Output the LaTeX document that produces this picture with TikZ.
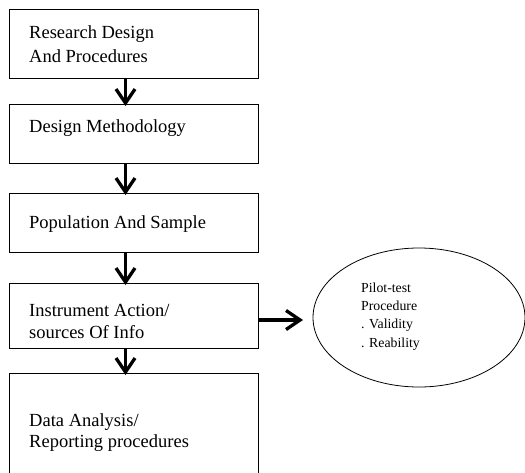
\documentclass[tikz,border=0pt]{standalone}
\usepackage{fontspec}
\setmainfont{Liberation Serif}
\usetikzlibrary{arrows.meta,shapes.geometric}
\begin{document}
\begin{tikzpicture}[x=1pt,y=-1pt,
  boxnode/.style={draw=black,line width=0.9pt,rectangle,inner sep=0pt,anchor=north west},
  boxtext/.style={anchor=base west,inner sep=0pt,font=\fontsize{18.5}{22}\selectfont},
  elltext/.style={anchor=base west,inner sep=0pt,font=\fontsize{13.8}{17}\selectfont},
  flowarrow/.style={line width=3.3pt,-{Straight Barb[length=14pt,width=19pt]}}]
\useasboundingbox (0,0) rectangle (525,472);
\clip (0,0) rectangle (525,472);
\node[boxnode,minimum width=249pt,minimum height=69pt] (b1) at (9,9) {};
\node[boxnode,minimum width=249pt,minimum height=59pt] (b2) at (9,104) {};
\node[boxnode,minimum width=249pt,minimum height=59pt] (b3) at (9,193) {};
\node[boxnode,minimum width=249pt,minimum height=65pt] (b4) at (9,283) {};
\node[boxnode,minimum width=249pt,minimum height=120pt] (b5) at (9,373) {};
\node[draw=black,line width=0.8pt,ellipse,minimum width=212pt,minimum height=139pt,inner sep=0pt] (e) at (419,317.5) {};
\node[boxtext] (t1a) at (29,38) {Research Design};
\node[boxtext] (t1b) at (29,62) {And Procedures};
\node[boxtext] (t2) at (29,132) {Design Methodology};
\node[boxtext] (t3) at (29,228) {Population And Sample};
\node[boxtext] (t4a) at (29,316) {Instrument Action/};
\node[boxtext] (t4b) at (29,338) {sources Of Info};
\node[boxtext] (t5a) at (29,426) {Data Analysis/};
\node[boxtext] (t5b) at (29,447) {Reporting procedures};
\node[elltext] (e1) at (361,292) {Pilot-test};
\node[elltext] (e2) at (361,310) {Procedure};
\node[elltext] (e3) at (361,328) {. Validity};
\node[elltext] (e4) at (361,347) {. Reability};
\coordinate (a1s) at (125.5,78);
\draw[flowarrow] (b1.south -| a1s) -- ([yshift=-2pt]b2.north -| a1s);
\draw[flowarrow] (b2.south -| a1s) -- ([yshift=-2pt]b3.north -| a1s);
\draw[flowarrow] (b3.south -| a1s) -- ([yshift=-2pt]b4.north -| a1s);
\draw[flowarrow] (b4.south -| a1s) -- ([yshift=-2pt]b5.north -| a1s);
\coordinate (ra) at (258,320);
\coordinate (rb) at (303,320);
\draw[flowarrow] (b4.east |- ra) -- (rb);
\end{tikzpicture}
\end{document}
